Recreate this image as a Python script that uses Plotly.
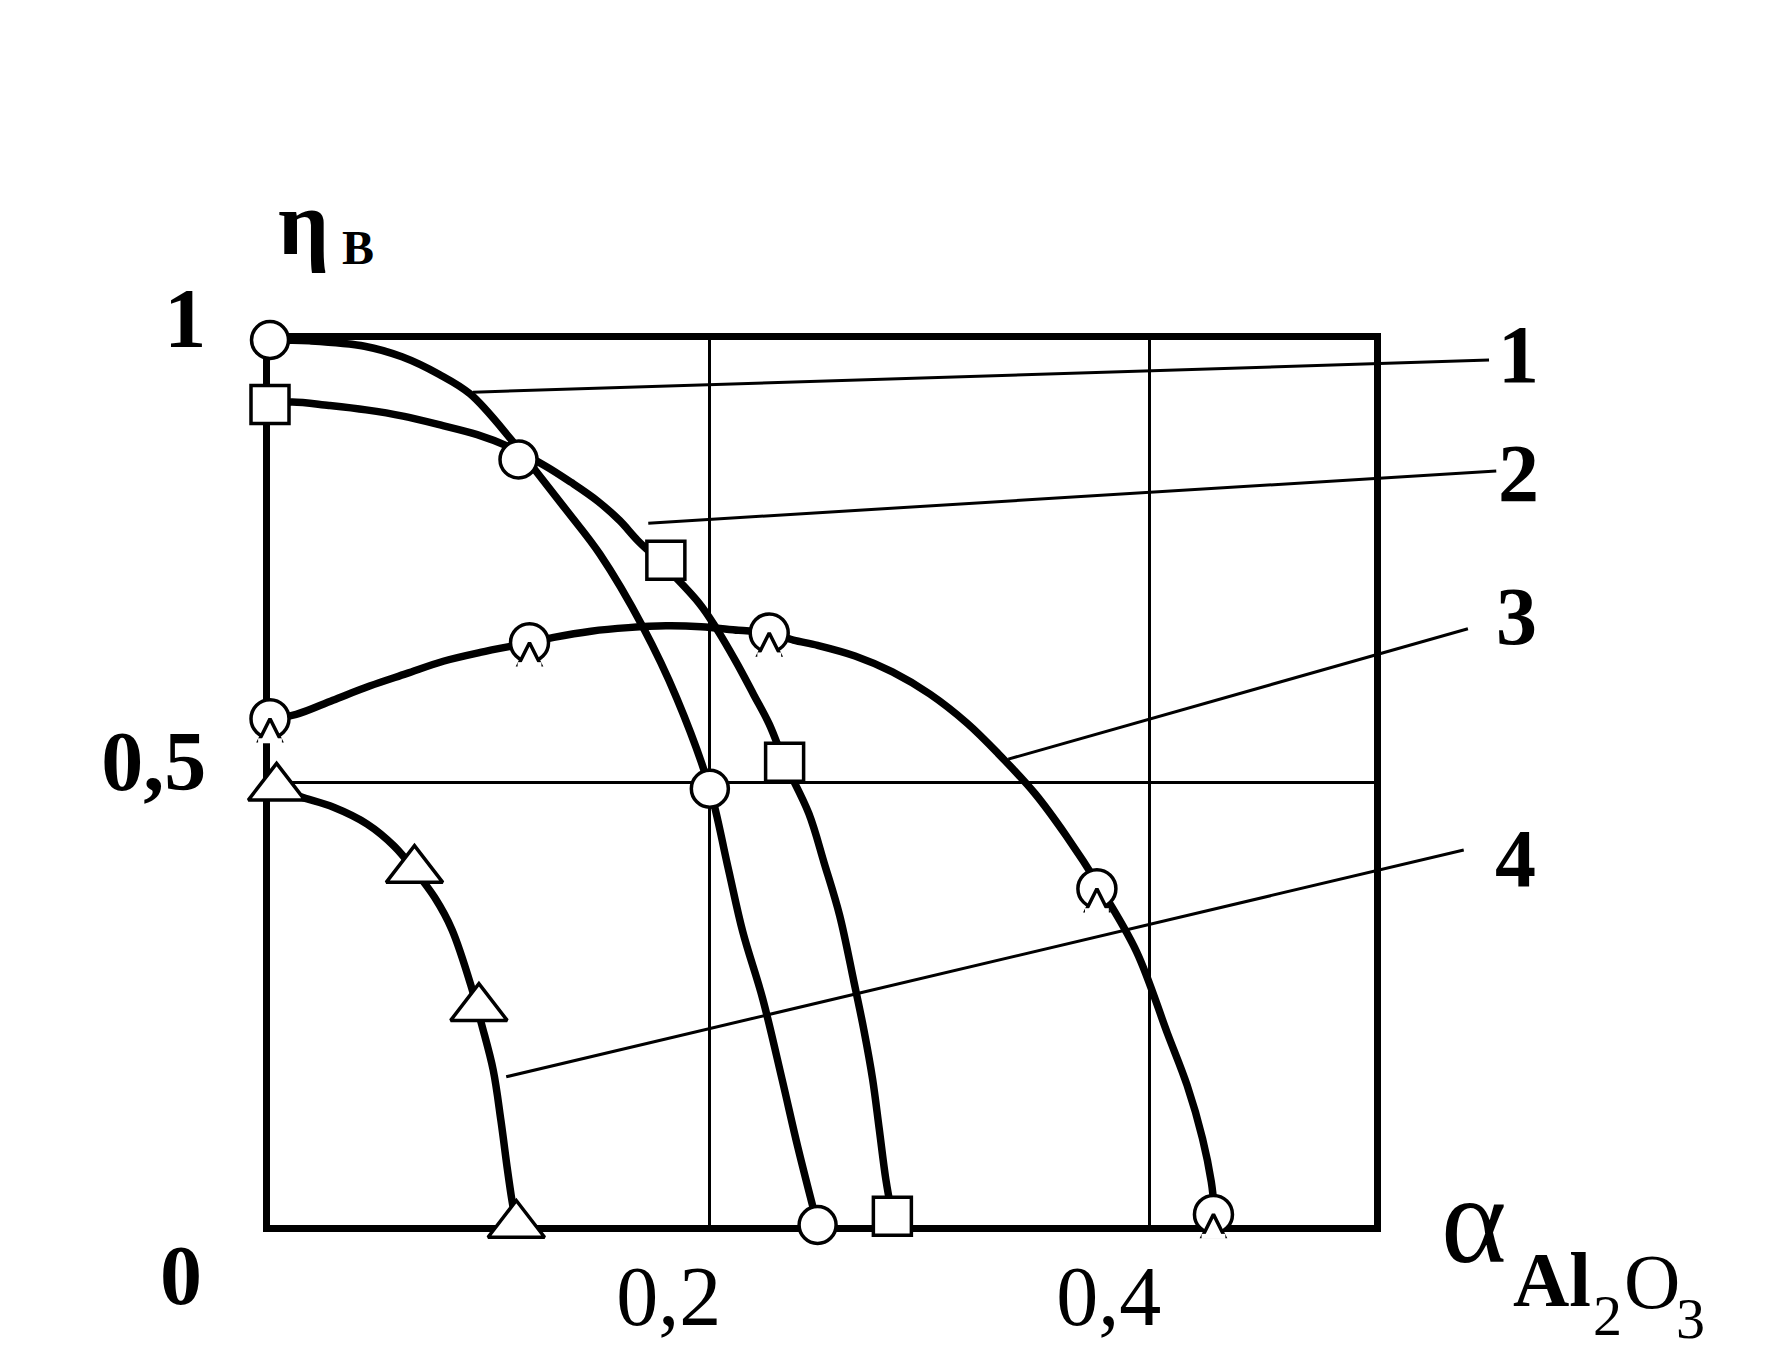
import plotly.graph_objects as go

# ---------------- data ----------------
# curve 1 : circles
c1_mark_x = [0.0, 0.113, 0.200, 0.249]
c1_mark_y = [1.0, 0.865, 0.493, 0.0]
c1_line_x = [0.0, 0.018, 0.043, 0.060, 0.077, 0.091, 0.1095, 0.1215, 0.135, 0.150,
             0.1695, 0.185, 0.200, 0.208, 0.215, 0.224, 0.233, 0.240, 0.249]
c1_line_y = [1.0, 0.999, 0.993, 0.981, 0.961, 0.939, 0.888, 0.850, 0.807, 0.758,
             0.676, 0.595, 0.493, 0.407, 0.331, 0.256, 0.163, 0.088, 0.0]

# curve 2 : squares
c2_mark_x = [0.0, 0.180, 0.234, 0.283]
c2_mark_y = [0.927, 0.751, 0.523, 0.01]
c2_line_x = [0.0, 0.0099, 0.0268, 0.0437, 0.0605, 0.0774, 0.0942, 0.108, 0.125, 0.137,
             0.149, 0.159, 0.167, 0.178, 0.195, 0.203, 0.212, 0.220, 0.227, 0.234,
             0.245, 0.252, 0.259, 0.2655, 0.270, 0.274, 0.277, 0.280, 0.283]
c2_line_y = [0.927, 0.930, 0.926, 0.921, 0.914, 0.904, 0.893, 0.880, 0.858, 0.839,
             0.818, 0.796, 0.774, 0.748, 0.703, 0.674, 0.636, 0.599, 0.566, 0.523,
             0.465, 0.409, 0.350, 0.275, 0.221, 0.165, 0.109, 0.052, 0.01]

# curve 3 : notched circles
c3_mark_x = [0.0, 0.118, 0.227, 0.376, 0.429]
c3_mark_y = [0.572, 0.658, 0.669, 0.380, 0.012]
c3_line_x = [0.0, 0.0119, 0.0286, 0.0453, 0.062, 0.0788, 0.0956, 0.118, 0.129, 0.146,
             0.163, 0.180, 0.196, 0.213, 0.227, 0.238, 0.249, 0.266, 0.283, 0.300,
             0.317, 0.331, 0.348, 0.362, 0.377, 0.394, 0.408, 0.417, 0.424,
             0.428, 0.4295]
c3_line_y = [0.572, 0.577, 0.593, 0.609, 0.623, 0.637, 0.647, 0.658, 0.664, 0.671,
             0.675, 0.677, 0.676, 0.672, 0.669, 0.661, 0.655, 0.643, 0.625, 0.600,
             0.567, 0.533, 0.487, 0.440, 0.383, 0.309, 0.217, 0.158, 0.098,
             0.049, 0.015]

# curve 4 : triangles
c4_mark_x = [0.003, 0.0657, 0.095, 0.112]
c4_mark_y = [0.494, 0.401, 0.245, 0.0]
c4_line_x = [0.003, 0.0137, 0.0289, 0.0442, 0.0565, 0.0657, 0.0749, 0.0827, 0.0917,
             0.0962, 0.1015, 0.105, 0.108, 0.110, 0.112]
c4_line_y = [0.494, 0.484, 0.472, 0.453, 0.428, 0.401, 0.370, 0.334, 0.268,
             0.227, 0.175, 0.118, 0.062, 0.028, 0.0]

# leader lines from curves to their numbers (start on curve, end near label)
lead_names = ["1", "2", "3", "4"]
lead_x0 = [0.0923, 0.172, 0.3357, 0.1074]
lead_y0 = [0.941, 0.793, 0.5264, 0.1675]
lead_x1 = [0.5543, 0.5576, 0.5447, 0.5428]
lead_y1 = [0.9773, 0.8519, 0.6737, 0.4238]

# axes
X_MAX = 0.502
x_tick_vals = [0.2, 0.4]
x_tick_text = ["0,2", "0,4"]
y_tick_vals = [0.5, 1.0]
y_tick_text = ["0,5", "1"]

# ---------------- layout geometry ----------------
PAGE_OFF = 8                      # default body margin of the html page
W_FIG, H_FIG = 1766 - 2 * PAGE_OFF, 1368 - 2 * PAGE_OFF
L, T, PW, PH = 270 - PAGE_OFF, 340 - PAGE_OFF, 1104, 885


def px(X, Y):
    """screenshot pixel position -> paper coordinates"""
    return (X - PAGE_OFF - L) / PW, (T + PH - (Y - PAGE_OFF)) / PH


SERIF = "Liberation Serif"
LW = 7.5

fig = go.Figure()

line_style = dict(color="black", width=LW, shape="spline", smoothing=1.0)
for lx, ly in [(c1_line_x, c1_line_y), (c2_line_x, c2_line_y),
               (c3_line_x, c3_line_y), (c4_line_x, c4_line_y)]:
    fig.add_trace(go.Scatter(x=lx, y=ly, mode="lines", line=line_style,
                             cliponaxis=False, hoverinfo="skip", showlegend=False))

mk_line = dict(color="black", width=3.5)
fig.add_trace(go.Scatter(x=c1_mark_x, y=c1_mark_y, mode="markers", cliponaxis=False,
                         marker=dict(symbol="circle", size=37, color="white", line=mk_line),
                         showlegend=False))
fig.add_trace(go.Scatter(x=c2_mark_x, y=c2_mark_y, mode="markers", cliponaxis=False,
                         marker=dict(symbol="square", size=38, color="white", line=mk_line),
                         showlegend=False))
# notched circle = circle + V-notch (arrow) + white bar hiding the arrow base
fig.add_trace(go.Scatter(x=c3_mark_x, y=c3_mark_y, mode="markers", cliponaxis=False,
                         marker=dict(symbol="circle", size=38, color="white", line=mk_line),
                         showlegend=False))
fig.add_trace(go.Scatter(x=c3_mark_x, y=c3_mark_y, mode="markers", cliponaxis=False,
                         marker=dict(symbol="arrow-up", size=22, color="white",
                                     line=dict(color="black", width=3.5)),
                         showlegend=False))
fig.add_trace(go.Scatter(x=c3_mark_x, y=c3_mark_y, mode="markers", cliponaxis=False,
                         marker=dict(symbol="line-ew", size=17, angle=0, standoff=22,
                                     line=dict(color="white", width=5)),
                         showlegend=False))
fig.add_trace(go.Scatter(x=c4_mark_x, y=c4_mark_y, mode="markers", cliponaxis=False,
                         marker=dict(symbol="triangle-up", size=49, color="white", line=mk_line),
                         showlegend=False))

# leader lines (paper coords so that they may leave the frame)
shapes = []
for x0, y0, x1, y1 in zip(lead_x0, lead_y0, lead_x1, lead_y1):
    shapes.append(dict(type="line", xref="paper", yref="paper",
                       x0=x0 / X_MAX, y0=y0, x1=x1 / X_MAX, y1=y1,
                       line=dict(color="black", width=3), layer="above"))

annotations = []


def add_text(text, X, Y, size, bold=False):
    ax, ay = px(X, Y)
    annotations.append(dict(text=text, x=ax, y=ay, xref="paper", yref="paper",
                            xanchor="center", yanchor="middle", showarrow=False,
                            font=dict(family=SERIF, size=size, color="black",
                                      weight="bold" if bold else "normal")))


# curve numbers
label_pos = [(1518, 355), (1518, 473), (1516, 616), (1515, 858)]
for name, (X, Y) in zip(lead_names, label_pos):
    add_text(name, X, Y, 82, bold=True)

# origin
add_text("0", 181, 1275, 84, bold=True)
# y title  η_В
add_text("η", 303, 223, 90, bold=True)
add_text("В", 358, 248, 48, bold=True)
# x title  α_{Al2O3}
add_text("α", 1474, 1220, 125)
add_text("Al", 1552, 1279, 78, bold=True)
add_text("2", 1607, 1315, 58)
add_text("O", 1652, 1281, 78)
add_text("3", 1690, 1318, 58)

axis_common = dict(showline=True, linecolor="black", linewidth=7, mirror=True,
                   showgrid=True, gridcolor="black", gridwidth=3, zeroline=False,
                   ticks="", automargin=False, layer="below traces")

fig.update_layout(
    width=W_FIG, height=H_FIG, autosize=False,
    margin=dict(l=L, r=W_FIG - L - PW, t=T, b=H_FIG - T - PH, pad=0),
    paper_bgcolor="white", plot_bgcolor="white",
    showlegend=False,
    xaxis=dict(range=[0, X_MAX], tickvals=x_tick_vals, ticktext=x_tick_text,
               tickfont=dict(family=SERIF, size=84, color="black"),
               ticklabelshift=-41, ticklabelstandoff=-8, **axis_common),
    yaxis=dict(range=[0, 1], tickvals=y_tick_vals, ticktext=y_tick_text,
               tickfont=dict(family=SERIF, size=84, color="black", weight="bold"),
               ticklabelshift=-22, ticklabelstandoff=40, **axis_common),
    shapes=shapes,
    annotations=annotations,
)

fig.write_html("out.html", config={"displayModeBar": False})
